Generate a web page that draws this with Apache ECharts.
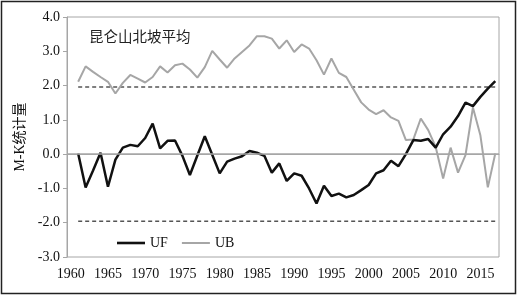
<!DOCTYPE html>
<html>
<head>
<meta charset="utf-8">
<script src="https://cdn.jsdelivr.net/npm/echarts@6/dist/echarts.min.js"></script>
<style>
html,body{margin:0;padding:0;background:#fff;}
#chart{width:519px;height:297px;}
</style>
</head>
<body>
<div id="chart"></div>
<script>
// Categories (years); 1960 has no data
const years = [];
for (let y = 1960; y <= 2017; y++) years.push(String(y));

// UF statistic, 1961-2017
const UF = [0.02,-0.97,-0.48,0.04,-0.95,-0.16,0.19,0.27,0.23,0.47,0.89,0.17,0.39,0.40,
  -0.05,-0.61,-0.04,0.52,-0.02,-0.56,-0.22,-0.13,-0.06,0.09,0.04,-0.05,-0.54,-0.27,
  -0.78,-0.56,-0.63,-1.00,-1.44,-0.92,-1.22,-1.15,-1.26,-1.19,-1.05,-0.90,-0.56,-0.47,
  -0.19,-0.35,0.00,0.41,0.39,0.44,0.19,0.58,0.80,1.11,1.50,1.40,1.67,1.91,2.13];

// UB statistic, 1961-2017
const UB = [2.11,2.56,2.40,2.25,2.11,1.77,2.08,2.31,2.20,2.09,2.25,2.56,2.38,2.59,
  2.64,2.47,2.23,2.54,3.01,2.76,2.52,2.79,2.98,3.17,3.44,3.44,3.37,3.08,
  3.32,2.98,3.20,3.08,2.74,2.32,2.79,2.37,2.25,1.88,1.51,1.30,1.17,1.28,
  1.07,0.97,0.41,0.43,1.04,0.70,0.21,-0.71,0.19,-0.54,-0.03,1.36,0.55,-0.97,0.02];

// Significance level (alpha = 0.05)
const critical = 1.96;

const titleText = '昆仑山北坡平均';
const yName = 'M-K统计量';

const serif = '"Liberation Serif","DejaVu Serif","Noto Sans CJK SC",serif';
const withGap = arr => [null].concat(arr);
const upper = withGap(UF.map(() => critical));
const lower = withGap(UF.map(() => -critical));

const chart = echarts.init(document.getElementById('chart'), null, {renderer:'canvas'});
chart.setOption({
  animation: false,
  backgroundColor: '#fff',
  title: {
    text: titleText, left: 84, top: 26,
    textStyle: {fontFamily: serif, fontSize: 14.5, fontWeight: 'normal', color: '#222'}
  },
  legend: {
    left: 112, top: 231, itemWidth: 28, itemHeight: 14, itemGap: 14,
    data: [
      {name: 'UF', icon: 'path://M0,0H28V2.6H0Z'},
      {name: 'UB', icon: 'path://M0,0H28V2H0Z'}
    ],
    textStyle: {fontFamily: serif, fontSize: 14, color: '#111'}
  },
  grid: {left: 67, top: 17, right: 20, bottom: 40, show: true, borderColor: '#a6a6a6', borderWidth: 1},
  xAxis: {
    type: 'category', data: years, boundaryGap: true,
    axisLine: {lineStyle: {color: '#a6a6a6', width: 1}},
    axisTick: {show: false},
    axisLabel: {interval: 4, margin: 10, fontFamily: serif, fontSize: 14, color: '#111'},
    splitLine: {show: false}
  },
  yAxis: {
    type: 'value', min: -3, max: 4, interval: 1,
    name: yName, nameLocation: 'middle', nameGap: 37, nameRotate: 90,
    nameTextStyle: {fontFamily: serif, fontSize: 14, color: '#111'},
    axisLine: {show: true, lineStyle: {color: '#a6a6a6', width: 1}},
    axisTick: {show: true, inside: false, length: 4, lineStyle: {color: '#a6a6a6'}},
    axisLabel: {margin: 7, fontFamily: serif, fontSize: 14, color: '#111', formatter: v => v.toFixed(1)},
    splitLine: {show: false}
  },
  graphic: [{
    type: 'rect', shape: {x: 1.5, y: 1.5, width: 514, height: 292},
    style: {fill: null, stroke: '#222', lineWidth: 1.5}, silent: true
  }],
  series: [
    {name: 'upper', type: 'line', data: upper, symbol: 'none', silent: true,
     lineStyle: {color: '#555', width: 1.5, type: [4, 3]}, z: 1},
    {name: 'lower', type: 'line', data: lower, symbol: 'none', silent: true,
     lineStyle: {color: '#555', width: 1.5, type: [4, 3]}, z: 1},
    {name: 'UF', type: 'line', data: withGap(UF), symbol: 'none', connectNulls: false,
     lineStyle: {color: '#111', width: 2.5}, itemStyle: {color: '#111'}, z: 3,
     markLine: {silent: true, symbol: 'none', label: {show: false},
       lineStyle: {color: '#a6a6a6', width: 1.5, type: 'solid'}, data: [{yAxis: 0}]}},
    {name: 'UB', type: 'line', data: withGap(UB), symbol: 'none',
     lineStyle: {color: '#a6a6a6', width: 2}, itemStyle: {color: '#a6a6a6'}, z: 2}
  ]
});
</script>
</body>
</html>
